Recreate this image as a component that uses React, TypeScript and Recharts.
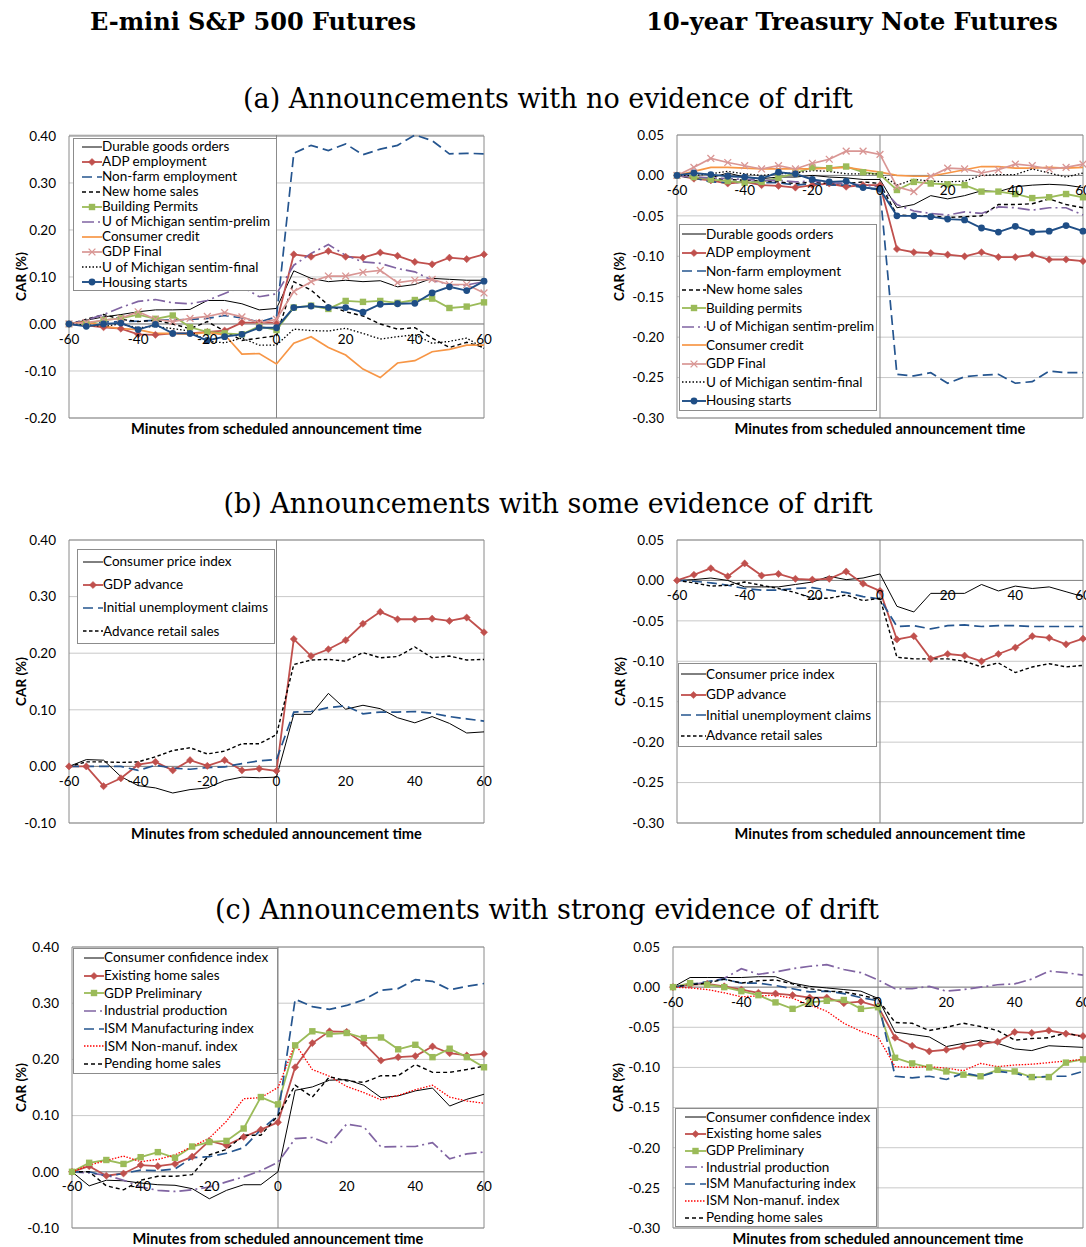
import React from 'react';
import {
  LineChart, Line, XAxis, YAxis, CartesianGrid, ReferenceLine, ReferenceArea, ReferenceDot, Legend,
} from 'recharts';

// ---------- shared axes ----------
const minutes = [-60, -55, -50, -45, -40, -35, -30, -25, -20, -15, -10, -5, 0, 5, 10, 15, 20, 25, 30, 35, 40, 45, 50, 55, 60];
const xTicks = [-60, -40, -20, 0, 20, 40, 60];
const yTicksWide = [-0.2, -0.1, 0, 0.1, 0.2, 0.3, 0.4];
const yTicksMid = [-0.1, 0, 0.1, 0.2, 0.3, 0.4];
const yTicksBond = [-0.3, -0.25, -0.2, -0.15, -0.1, -0.05, 0, 0.05];

// ---------- (a) E-mini ----------
const aL_durable = [0, 0.008, 0.015, 0.02, 0.026, 0.03, 0.03, 0.031, 0.05, 0.05, 0.043, 0.03, 0.033, 0.113, 0.097, 0.09, 0.093, 0.09, 0.092, 0.079, 0.084, 0.097, 0.095, 0.093, 0.093];
const aL_adp = [0, -0.003, -0.007, -0.01, -0.022, -0.023, -0.02, -0.02, -0.017, -0.014, 0.003, 0.003, 0.003, 0.148, 0.143, 0.155, 0.143, 0.141, 0.152, 0.145, 0.132, 0.127, 0.141, 0.138, 0.148];
const aL_nonfarm = [0, 0.002, 0.004, 0.005, 0.006, 0.008, 0.008, 0.01, 0.012, 0.018, 0.013, 0.004, 0.015, 0.363, 0.38, 0.369, 0.383, 0.36, 0.372, 0.38, 0.402, 0.39, 0.362, 0.363, 0.362];
const aL_newhome = [0, 0.01, 0.02, 0.01, 0.005, 0.008, 0, -0.01, 0.005, -0.015, -0.035, -0.03, -0.025, 0.09, 0.072, 0.04, 0.026, 0.017, 0, -0.011, -0.008, -0.03, -0.05, -0.039, -0.05];
const aL_permits = [0, 0, 0.008, 0.012, 0.02, 0.011, 0.018, -0.007, -0.017, -0.02, -0.022, -0.005, -0.013, 0.035, 0.039, 0.032, 0.049, 0.047, 0.049, 0.045, 0.051, 0.054, 0.034, 0.037, 0.046];
const aL_prelim = [0, 0.008, 0.02, 0.035, 0.048, 0.052, 0.045, 0.043, 0.05, 0.065, 0.079, 0.058, 0.064, 0.125, 0.15, 0.169, 0.146, 0.132, 0.129, 0.118, 0.111, 0.093, 0.084, 0.083, 0.09];
const aL_credit = [0, 0.005, -0.005, -0.01, -0.012, -0.02, -0.02, -0.022, -0.018, -0.023, -0.064, -0.063, -0.085, -0.041, -0.027, -0.05, -0.066, -0.096, -0.114, -0.083, -0.078, -0.059, -0.054, -0.045, -0.045];
const aL_gdpFinal = [0, 0.003, 0.008, 0.012, 0.026, 0.01, 0.005, 0.012, 0.016, 0.024, 0.015, 0.002, 0.01, 0.069, 0.09, 0.102, 0.102, 0.11, 0.114, 0.088, 0.093, 0.095, 0.084, 0.084, 0.066];
const aL_final = [0, -0.002, -0.005, 0, -0.008, -0.005, -0.01, -0.015, -0.037, -0.04, -0.03, -0.045, -0.045, -0.011, -0.014, -0.015, -0.009, -0.02, -0.032, -0.027, -0.023, -0.041, -0.037, -0.03, -0.052];
const aL_housing = [0, -0.005, 0, 0.002, -0.012, -0.001, -0.02, -0.02, -0.035, -0.027, -0.022, -0.008, -0.008, 0.035, 0.038, 0.035, 0.035, 0.025, 0.042, 0.043, 0.044, 0.066, 0.079, 0.071, 0.091];

// ---------- (a) T-note ----------
const aR_durable = [0, -0.002, -0.003, 0.003, -0.002, -0.004, -0.002, -0.002, 0, -0.002, -0.003, -0.005, -0.005, -0.04, -0.036, -0.025, -0.029, -0.025, -0.019, -0.02, -0.014, -0.012, -0.011, -0.012, -0.015];
const aR_adp = [0, -0.004, -0.006, -0.01, -0.008, -0.012, -0.013, -0.015, -0.012, -0.01, -0.014, -0.012, -0.012, -0.091, -0.095, -0.096, -0.098, -0.1, -0.095, -0.101, -0.101, -0.098, -0.104, -0.104, -0.106];
const aR_nonfarm = [0, -0.003, -0.008, -0.009, -0.008, -0.009, -0.009, -0.012, -0.01, -0.012, -0.012, -0.015, -0.018, -0.246, -0.248, -0.244, -0.257, -0.249, -0.247, -0.246, -0.257, -0.255, -0.242, -0.244, -0.244];
const aR_newhome = [0, -0.003, -0.004, -0.005, -0.006, -0.007, -0.008, -0.01, -0.008, -0.01, -0.01, -0.008, -0.01, -0.049, -0.05, -0.05, -0.052, -0.051, -0.05, -0.036, -0.036, -0.035, -0.029, -0.036, -0.04];
const aR_permits = [0, -0.002, -0.005, -0.007, -0.009, -0.008, -0.003, 0.003, 0.01, 0.009, 0.011, 0.004, 0.001, -0.018, -0.008, -0.01, -0.011, -0.012, -0.02, -0.02, -0.023, -0.028, -0.027, -0.023, -0.027];
const aR_prelim = [0, -0.002, -0.003, -0.004, -0.005, -0.006, -0.006, -0.008, -0.007, -0.009, -0.01, -0.012, -0.014, -0.036, -0.044, -0.047, -0.049, -0.045, -0.047, -0.039, -0.04, -0.043, -0.04, -0.04, -0.049];
const aR_credit = [0, 0.005, 0.01, 0.01, 0.009, 0.008, 0.008, 0.008, 0.008, 0.009, 0.01, 0.007, 0.004, 0, -0.001, -0.001, 0.003, 0.007, 0.011, 0.011, 0.009, 0.009, 0.01, 0.009, 0.01];
const aR_gdpFinal = [0, 0.01, 0.021, 0.016, 0.012, 0.008, 0.012, 0.008, 0.015, 0.02, 0.03, 0.03, 0.026, -0.014, -0.02, -0.001, 0.009, 0.008, 0.003, 0.007, 0.014, 0.012, 0.008, 0.01, 0.014];
const aR_final = [0, 0, 0.002, 0.005, 0.002, 0, 0.002, 0.003, 0.006, 0.005, 0.002, 0.002, 0.002, -0.012, -0.005, -0.007, -0.008, -0.007, 0, 0.001, 0.001, 0.008, 0.003, -0.002, 0.003];
const aR_housing = [0, 0.003, 0.001, -0.001, -0.002, -0.004, 0.004, 0.002, -0.005, -0.008, -0.007, -0.015, -0.017, -0.05, -0.05, -0.051, -0.054, -0.055, -0.065, -0.07, -0.063, -0.07, -0.069, -0.062, -0.069];

// ---------- (b) E-mini ----------
const bL_cpi = [0, 0.012, 0.011, -0.018, -0.034, -0.038, -0.047, -0.041, -0.038, -0.025, -0.019, -0.02, -0.019, 0.092, 0.092, 0.129, 0.101, 0.108, 0.102, 0.086, 0.077, 0.088, 0.076, 0.059, 0.061];
const bL_gdpAdv = [0, 0, -0.035, -0.021, 0.003, 0.008, -0.007, 0.011, 0.001, 0.011, -0.007, -0.004, -0.008, 0.225, 0.195, 0.207, 0.223, 0.252, 0.273, 0.26, 0.26, 0.261, 0.257, 0.263, 0.237];
const bL_claims = [0, 0, 0, 0, -0.007, 0.002, -0.003, -0.005, -0.002, -0.001, 0.005, 0.01, 0.012, 0.096, 0.097, 0.104, 0.107, 0.093, 0.096, 0.096, 0.097, 0.094, 0.088, 0.084, 0.08];
const bL_retail = [0, 0.008, 0.008, 0.007, 0.008, 0.017, 0.028, 0.033, 0.022, 0.027, 0.04, 0.04, 0.056, 0.18, 0.188, 0.189, 0.186, 0.201, 0.192, 0.194, 0.211, 0.192, 0.195, 0.188, 0.189];

// ---------- (b) T-note ----------
const bR_cpi = [0, 0.001, 0.003, 0, -0.008, -0.008, -0.008, -0.005, -0.002, 0.005, 0.001, 0.003, 0.008, -0.032, -0.039, -0.016, -0.016, -0.016, -0.005, -0.013, -0.007, -0.01, -0.008, -0.014, -0.02];
const bR_gdpAdv = [0, 0.007, 0.015, 0.005, 0.021, 0.006, 0.008, 0.002, 0.001, 0.002, 0.011, -0.004, -0.013, -0.073, -0.069, -0.097, -0.091, -0.093, -0.1, -0.091, -0.083, -0.069, -0.071, -0.079, -0.072];
const bR_claims = [0, -0.001, -0.003, -0.006, -0.01, -0.012, -0.012, -0.01, -0.009, -0.012, -0.015, -0.02, -0.023, -0.057, -0.056, -0.06, -0.056, -0.055, -0.057, -0.056, -0.056, -0.057, -0.057, -0.057, -0.057];
const bR_retail = [0, -0.003, -0.007, -0.006, -0.002, -0.006, -0.01, -0.015, -0.022, -0.022, -0.018, -0.025, -0.022, -0.095, -0.097, -0.097, -0.097, -0.1, -0.107, -0.102, -0.114, -0.107, -0.103, -0.107, -0.105];

// ---------- (c) E-mini ----------
const cL_confidence = [0, -0.025, -0.015, -0.016, -0.02, -0.023, -0.024, -0.03, -0.048, -0.033, -0.023, -0.023, 0, 0.145, 0.151, 0.163, 0.164, 0.154, 0.132, 0.135, 0.144, 0.149, 0.117, 0.129, 0.138];
const cL_existing = [0, 0.01, -0.007, -0.003, 0.012, 0.01, 0.014, 0.027, 0.055, 0.047, 0.062, 0.075, 0.088, 0.186, 0.229, 0.25, 0.249, 0.229, 0.198, 0.204, 0.206, 0.223, 0.211, 0.207, 0.21];
const cL_gdpPrelim = [0, 0.016, 0.021, 0.014, 0.026, 0.035, 0.025, 0.045, 0.053, 0.055, 0.077, 0.133, 0.12, 0.225, 0.25, 0.245, 0.247, 0.238, 0.239, 0.218, 0.226, 0.204, 0.219, 0.204, 0.186];
const cL_industrial = [0, -0.002, -0.006, -0.015, -0.027, -0.033, -0.035, -0.032, -0.027, -0.018, -0.009, 0.002, 0.017, 0.059, 0.061, 0.049, 0.085, 0.08, 0.044, 0.045, 0.045, 0.052, 0.023, 0.032, 0.035];
const cL_ism = [0, 0, -0.008, -0.003, 0.003, 0.002, 0.005, 0.025, 0.027, 0.033, 0.043, 0.075, 0.1, 0.307, 0.294, 0.289, 0.296, 0.306, 0.323, 0.326, 0.342, 0.339, 0.324, 0.33, 0.335];
const cL_nonmanuf = [0, 0.012, 0.02, 0.028, 0.018, 0.022, 0.03, 0.045, 0.06, 0.09, 0.13, 0.132, 0.15, 0.228, 0.182, 0.17, 0.152, 0.141, 0.128, 0.136, 0.146, 0.154, 0.133, 0.126, 0.122];
const cL_pending = [0, 0, -0.025, -0.032, -0.015, -0.008, -0.008, -0.005, 0.03, 0.04, 0.065, 0.065, 0.1, 0.154, 0.133, 0.169, 0.162, 0.159, 0.171, 0.171, 0.191, 0.177, 0.177, 0.182, 0.188];

// ---------- (c) T-note ----------
const cR_confidence = [0, 0.012, 0.012, 0.012, 0.012, 0.013, 0.013, 0.005, 0.001, -0.001, -0.003, -0.005, -0.014, -0.056, -0.059, -0.062, -0.074, -0.07, -0.066, -0.07, -0.077, -0.079, -0.073, -0.074, -0.075];
const cR_existing = [0, 0.003, 0.004, 0.001, -0.003, -0.007, -0.008, -0.01, -0.013, -0.013, -0.02, -0.018, -0.024, -0.063, -0.073, -0.08, -0.078, -0.074, -0.071, -0.068, -0.056, -0.057, -0.054, -0.058, -0.061];
const cR_gdpPrelim = [0, 0.005, 0.003, 0, -0.005, -0.01, -0.019, -0.027, -0.019, -0.017, -0.016, -0.027, -0.025, -0.088, -0.095, -0.1, -0.105, -0.109, -0.111, -0.103, -0.105, -0.112, -0.112, -0.094, -0.09];
const cR_industrial = [0, 0.003, 0.006, 0.011, 0.023, 0.016, 0.019, 0.023, 0.026, 0.028, 0.022, 0.018, 0.009, -0.002, -0.002, 0.001, -0.005, -0.003, 0, 0.003, 0.004, 0.01, 0.02, 0.018, 0.015];
const cR_ism = [0, 0.003, 0.007, 0.01, 0.005, 0.005, 0.002, -0.002, -0.006, -0.005, -0.008, -0.013, -0.017, -0.111, -0.113, -0.111, -0.115, -0.107, -0.111, -0.105, -0.107, -0.113, -0.111, -0.111, -0.105];
const cR_nonmanuf = [0, -0.001, -0.003, -0.007, -0.012, -0.011, -0.01, -0.014, -0.022, -0.03, -0.045, -0.055, -0.062, -0.099, -0.1, -0.099, -0.101, -0.104, -0.095, -0.099, -0.097, -0.096, -0.094, -0.092, -0.09];
const cR_pending = [0, 0.003, 0.005, 0.01, 0.005, 0.008, 0.009, 0.004, -0.002, -0.005, -0.006, -0.01, -0.015, -0.044, -0.045, -0.054, -0.05, -0.045, -0.049, -0.054, -0.066, -0.064, -0.063, -0.057, -0.062];

// ---------- styles ----------
type Sty = { color: string; width: number; dash?: string; marker?: 'diamond' | 'square' | 'circle' | 'x' };
const S: Record<string, Sty> = {
  black: { color: '#000000', width: 1 },
  redDiamond: { color: '#c0504d', width: 1.8, marker: 'diamond' },
  blueLong: { color: '#25558f', width: 1.7, dash: '10 5' },
  blackDash: { color: '#000000', width: 1.4, dash: '4 3' },
  greenSquare: { color: '#9bbb59', width: 1.8, marker: 'square' },
  purpleDashDot: { color: '#8064a2', width: 1.7, dash: '12 4 2 4' },
  orange: { color: '#f79646', width: 1.7 },
  pinkX: { color: '#d99694', width: 1.7, marker: 'x' },
  blackDot: { color: '#000000', width: 1.3, dash: '1.5 2' },
  blueCircle: { color: '#1f4e86', width: 1.9, marker: 'circle' },
  redDot: { color: '#ff0000', width: 1.3, dash: '1.5 1.5' },
};

type Series = { key: string; name: string; sty: Sty; values: number[] };

const MarkerShape = ({ shape, cx, cy, color }: { shape: string; cx: number; cy: number; color: string }) => {
  if (shape === 'diamond') {
    const s = 3.6;
    return <path d={`M${cx},${cy - s}L${cx + s},${cy}L${cx},${cy + s}L${cx - s},${cy}Z`} fill={color} stroke={color} strokeWidth={0.5} />;
  }
  if (shape === 'square') {
    const s = 3.2;
    return <rect x={cx - s} y={cy - s} width={2 * s} height={2 * s} fill={color} />;
  }
  if (shape === 'circle') {
    return <circle cx={cx} cy={cy} r={3.4} fill={color} />;
  }
  const s = 3.4;
  return <path d={`M${cx - s},${cy - s}L${cx + s},${cy + s}M${cx - s},${cy + s}L${cx + s},${cy - s}`} stroke={color} strokeWidth={1.3} fill="none" />;
};

const renderDot = (sty: Sty) => (p: any) => {
  const { cx, cy, index } = p;
  const k = `dot-${index}`;
  if (typeof cx !== 'number' || typeof cy !== 'number') return <g key={k} />;
  return <g key={k}><MarkerShape shape={sty.marker as string} cx={cx} cy={cy} color={sty.color} /></g>;
};

// ---------- panels ----------
const panelA_L: Series[] = [
  { key: 'durable', name: 'Durable goods orders', sty: S.black, values: aL_durable },
  { key: 'adp', name: 'ADP employment', sty: S.redDiamond, values: aL_adp },
  { key: 'nonfarm', name: 'Non-farm employment', sty: S.blueLong, values: aL_nonfarm },
  { key: 'newhome', name: 'New home sales', sty: S.blackDash, values: aL_newhome },
  { key: 'permits', name: 'Building Permits', sty: S.greenSquare, values: aL_permits },
  { key: 'prelim', name: 'U of Michigan sentim-prelim', sty: S.purpleDashDot, values: aL_prelim },
  { key: 'credit', name: 'Consumer credit', sty: S.orange, values: aL_credit },
  { key: 'gdpFinal', name: 'GDP Final', sty: S.pinkX, values: aL_gdpFinal },
  { key: 'final', name: 'U of Michigan sentim-final', sty: S.blackDot, values: aL_final },
  { key: 'housing', name: 'Housing starts', sty: S.blueCircle, values: aL_housing },
];
const panelA_R: Series[] = [
  { key: 'durable', name: 'Durable goods orders', sty: S.black, values: aR_durable },
  { key: 'adp', name: 'ADP employment', sty: S.redDiamond, values: aR_adp },
  { key: 'nonfarm', name: 'Non-farm employment', sty: S.blueLong, values: aR_nonfarm },
  { key: 'newhome', name: 'New home sales', sty: S.blackDash, values: aR_newhome },
  { key: 'permits', name: 'Building permits', sty: S.greenSquare, values: aR_permits },
  { key: 'prelim', name: 'U of Michigan sentim-prelim', sty: S.purpleDashDot, values: aR_prelim },
  { key: 'credit', name: 'Consumer credit', sty: S.orange, values: aR_credit },
  { key: 'gdpFinal', name: 'GDP Final', sty: S.pinkX, values: aR_gdpFinal },
  { key: 'final', name: 'U of Michigan sentim-final', sty: S.blackDot, values: aR_final },
  { key: 'housing', name: 'Housing starts', sty: S.blueCircle, values: aR_housing },
];
const panelB_L: Series[] = [
  { key: 'cpi', name: 'Consumer price index', sty: S.black, values: bL_cpi },
  { key: 'gdpAdv', name: 'GDP advance', sty: S.redDiamond, values: bL_gdpAdv },
  { key: 'claims', name: 'Initial unemployment claims', sty: S.blueLong, values: bL_claims },
  { key: 'retail', name: 'Advance retail sales', sty: { ...S.blackDash, dash: '3.5 2.5' }, values: bL_retail },
];
const panelB_R: Series[] = [
  { key: 'cpi', name: 'Consumer price index', sty: S.black, values: bR_cpi },
  { key: 'gdpAdv', name: 'GDP advance', sty: S.redDiamond, values: bR_gdpAdv },
  { key: 'claims', name: 'Initial unemployment claims', sty: S.blueLong, values: bR_claims },
  { key: 'retail', name: 'Advance retail sales', sty: { ...S.blackDash, dash: '3.5 2.5' }, values: bR_retail },
];
const panelC_L: Series[] = [
  { key: 'confidence', name: 'Consumer confidence index', sty: S.black, values: cL_confidence },
  { key: 'existing', name: 'Existing home sales', sty: S.redDiamond, values: cL_existing },
  { key: 'gdpPrelim', name: 'GDP Preliminary', sty: S.greenSquare, values: cL_gdpPrelim },
  { key: 'industrial', name: 'Industrial production', sty: S.purpleDashDot, values: cL_industrial },
  { key: 'ism', name: 'ISM Manufacturing index', sty: S.blueLong, values: cL_ism },
  { key: 'nonmanuf', name: 'ISM Non-manuf. index', sty: S.redDot, values: cL_nonmanuf },
  { key: 'pending', name: 'Pending home sales', sty: S.blackDash, values: cL_pending },
];
const panelC_R: Series[] = [
  { key: 'confidence', name: 'Consumer confidence index', sty: S.black, values: cR_confidence },
  { key: 'existing', name: 'Existing home sales', sty: S.redDiamond, values: cR_existing },
  { key: 'gdpPrelim', name: 'GDP Preliminary', sty: S.greenSquare, values: cR_gdpPrelim },
  { key: 'industrial', name: 'Industrial production', sty: S.purpleDashDot, values: cR_industrial },
  { key: 'ism', name: 'ISM Manufacturing index', sty: S.blueLong, values: cR_ism },
  { key: 'nonmanuf', name: 'ISM Non-manuf. index', sty: S.redDot, values: cR_nonmanuf },
  { key: 'pending', name: 'Pending home sales', sty: S.blackDash, values: cR_pending },
];

const FONT = 'Lato, "Liberation Sans", sans-serif';
const FS = 13.5;
const FS_TITLE = 14.6;
const YW = 50;
const XH = 22;

type Geo = { left: number; top: number; W: number; H: number; L: number; T: number; R: number; B: number; labelX: number };
type Box = { x: number; y: number; w: number; h: number; iconX: number; iconW: number };

const LegendBox = ({ series, box }: { series: Series[]; box: Box }) => {
  const rowH = (box.h - 2) / series.length;
  return (
    <div style={{ width: box.w, height: box.h, boxSizing: 'border-box', border: '1px solid #8c8c8c', background: '#fff' }}>
      {series.map((s) => (
        <div key={s.key} style={{ display: 'flex', alignItems: 'center', height: rowH, paddingLeft: box.iconX }}>
          <svg width={box.iconW} height={12} style={{ display: 'block', flex: 'none' }}>
            <line x1={0} y1={6} x2={box.iconW} y2={6} stroke={s.sty.color} strokeWidth={s.sty.width} strokeDasharray={s.sty.dash} />
            {s.sty.marker ? <MarkerShape shape={s.sty.marker} cx={box.iconW / 2} cy={6} color={s.sty.color} /> : null}
          </svg>
          <span style={{ fontSize: FS, lineHeight: 1, whiteSpace: 'nowrap', color: '#000', fontFamily: FONT }}>{s.name}</span>
        </div>
      ))}
    </div>
  );
};

const Panel = ({ g, yDomain, yTicks, series, box }: { g: Geo; yDomain: [number, number]; yTicks: number[]; series: Series[]; box: Box }) => {
  const data = minutes.map((m, i) => {
    const row: Record<string, number> = { m };
    series.forEach((s) => { row[s.key] = s.values[i]; });
    return row;
  });
  const margin = {
    top: g.T - g.top,
    left: g.L - g.left - YW,
    right: g.left + g.W - g.R,
    bottom: g.top + g.H - g.B - XH,
  };
  return (
    <div style={{ position: 'absolute', left: g.left, top: g.top, width: g.W, height: g.H }}>
      <LineChart width={g.W} height={g.H} data={data} margin={margin}>
        <CartesianGrid vertical={false} stroke="#c9c9c9" />
        <XAxis
          type="number" dataKey="m" domain={[-60, 60]} ticks={xTicks} tick={false} tickLine={false} axisLine={false} height={XH}
          label={{ value: 'Minutes from scheduled announcement time', position: 'center', style: { fontWeight: 700, fontSize: FS_TITLE, fill: '#000' } }}
        />
        <YAxis
          type="number" domain={yDomain} ticks={yTicks} interval={0} width={YW} axisLine={false} tickLine={false} tickMargin={7}
          tick={{ fontSize: FS, fill: '#000' }} tickFormatter={(v: number) => v.toFixed(2)}
          label={{ value: 'CAR (%)', angle: -90, position: 'insideLeft', offset: g.labelX - g.left - margin.left, style: { textAnchor: 'middle', fontWeight: 700, fontSize: FS, fill: '#000' } }}
        />
        <ReferenceArea x1={-60} x2={60} y1={yDomain[0]} y2={yDomain[1]} fill="none" fillOpacity={0} stroke="#8a8a8a" strokeWidth={1} />
        <ReferenceLine x={0} stroke="#858585" strokeWidth={1} />
        <ReferenceLine y={0} stroke="#858585" strokeWidth={1} />
        {xTicks.map((t) => (
          <ReferenceDot key={`xt${t}`} x={t} y={0} r={0} fill="none" stroke="none"
            label={{ value: String(t), position: 'bottom', offset: 10, fontSize: FS, fill: '#000' }} />
        ))}
        {series.map((s) => (
          <Line key={s.key} type="linear" dataKey={s.key} name={s.name} stroke={s.sty.color} strokeWidth={s.sty.width}
            strokeDasharray={s.sty.dash} dot={s.sty.marker ? renderDot(s.sty) : false} activeDot={false} isAnimationActive={false} />
        ))}
        <Legend layout="vertical" align="center" verticalAlign="middle"
          wrapperStyle={{ left: box.x - g.left, top: box.y - g.top, width: box.w, height: box.h }}
          content={() => <LegendBox series={series} box={box} />} />
      </LineChart>
    </div>
  );
};

const titleStyle = (cx: number, cy: number, size: number, bold: boolean): React.CSSProperties => ({
  position: 'absolute', left: cx - 400, width: 800, top: cy - size / 2, textAlign: 'center',
  fontFamily: '"DejaVu Serif", serif', fontWeight: bold ? 700 : 400, fontSize: size, lineHeight: `${size}px`, color: '#000', whiteSpace: 'nowrap',
});

export default function App() {
  return (
    <div style={{ position: 'absolute', left: 0, top: 0, width: 1086, height: 1247, overflow: 'hidden', background: '#fff', fontFamily: FONT }}>
      <div style={titleStyle(253, 22, 24, true)}>E-mini S&amp;P 500 Futures</div>
      <div style={titleStyle(852, 22, 24, true)}>10-year Treasury Note Futures</div>
      <div style={titleStyle(548, 98, 27, false)}>(a) Announcements with no evidence of drift</div>
      <div style={titleStyle(548, 503, 27, false)}>(b) Announcements with some evidence of drift</div>
      <div style={titleStyle(547, 909, 27, false)}>(c) Announcements with strong evidence of drift</div>

      <Panel g={{ left: 0, top: 125, W: 500, H: 320, L: 69, T: 135, R: 484, B: 418, labelX: 21 }}
        yDomain={[-0.2, 0.4]} yTicks={yTicksWide} series={panelA_L}
        box={{ x: 73, y: 138, w: 204, h: 153, iconX: 8, iconW: 20 }} />
      <Panel g={{ left: 596, top: 125, W: 490, H: 320, L: 677, T: 135, R: 1083, B: 418, labelX: 619 }}
        yDomain={[-0.3, 0.05]} yTicks={yTicksBond} series={panelA_R}
        box={{ x: 679, y: 224, w: 198, h: 187, iconX: 2, iconW: 24 }} />

      <Panel g={{ left: 0, top: 530, W: 500, H: 320, L: 69, T: 540, R: 484, B: 823, labelX: 21 }}
        yDomain={[-0.1, 0.4]} yTicks={yTicksMid} series={panelB_L}
        box={{ x: 77, y: 549, w: 198, h: 95, iconX: 5, iconW: 20 }} />
      <Panel g={{ left: 596, top: 530, W: 490, H: 320, L: 677, T: 540, R: 1083, B: 823, labelX: 620 }}
        yDomain={[-0.3, 0.05]} yTicks={yTicksBond} series={panelB_R}
        box={{ x: 678, y: 663, w: 199, h: 84, iconX: 2, iconW: 25 }} />

      <Panel g={{ left: 0, top: 935, W: 500, H: 320, L: 72, T: 947, R: 484, B: 1228, labelX: 21 }}
        yDomain={[-0.1, 0.4]} yTicks={yTicksMid} series={panelC_L}
        box={{ x: 73, y: 948, w: 205, h: 126, iconX: 10, iconW: 20 }} />
      <Panel g={{ left: 596, top: 935, W: 490, H: 320, L: 673, T: 947, R: 1083, B: 1228, labelX: 618 }}
        yDomain={[-0.3, 0.05]} yTicks={yTicksBond} series={panelC_R}
        box={{ x: 675, y: 1108, w: 202, h: 119, iconX: 9, iconW: 21 }} />
    </div>
  );
}
